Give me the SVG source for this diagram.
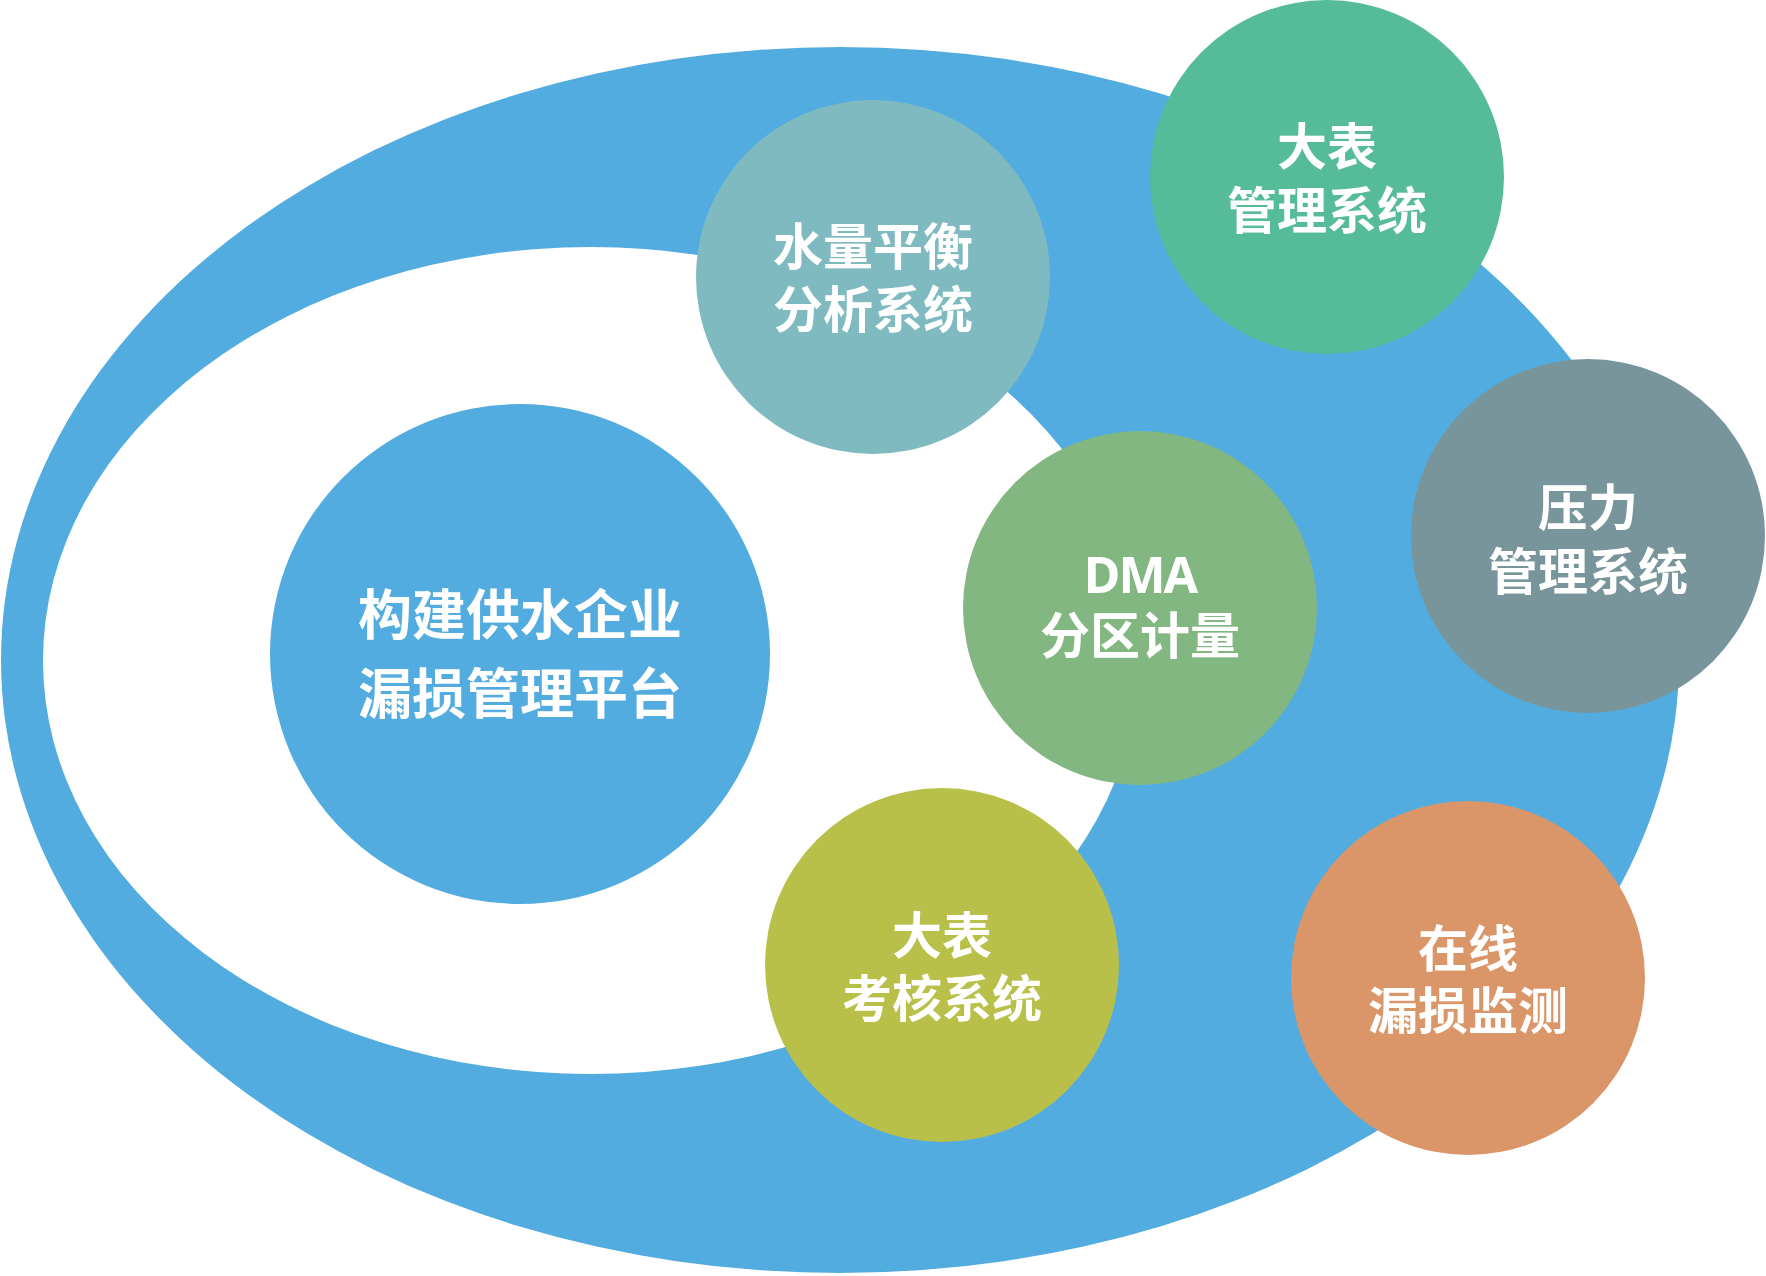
<svg xmlns="http://www.w3.org/2000/svg" width="1766" height="1276" viewBox="0 0 1766 1276">
<style>
text { font-family: "Noto Sans CJK SC", "Noto Sans", sans-serif; font-weight: 700; fill: #ffffff; text-anchor: middle; }
.big { font-size: 54px; }
.mid { font-size: 50px; }
.lat { font-family: "Noto Sans", "Noto Sans CJK SC", sans-serif; font-size: 50px; letter-spacing: -2px; }
</style>
<rect width="1766" height="1276" fill="#ffffff"/>
<g id="ring">
<ellipse cx="840" cy="660" rx="839" ry="613" fill="#52ACE0"/>
<ellipse cx="591" cy="660.5" rx="548" ry="413.5" fill="#ffffff"/>
</g>
<g id="connectors"></g>
<g id="platform">
<circle cx="520" cy="654" r="250" fill="#52ACE0"/>
<text class="big" x="520" y="635">构建供水企业</text>
<text class="big" x="520" y="714">漏损管理平台</text>
</g>
<g id="water-balance">
<circle cx="873" cy="277" r="177" fill="#7FBAC1"/>
<text class="mid" x="873" y="265">水量平衡</text>
<text class="mid" x="873" y="328">分析系统</text>
</g>
<g id="big-meter-mgmt">
<circle cx="1327" cy="177" r="177" fill="#56BB98"/>
<text class="mid" x="1327" y="165">大表</text>
<text class="mid" x="1327" y="229">管理系统</text>
</g>
<g id="pressure">
<circle cx="1588" cy="536" r="177" fill="#78959B"/>
<text class="mid" x="1588" y="526">压力</text>
<text class="mid" x="1588" y="590">管理系统</text>
</g>
<g id="dma">
<circle cx="1140" cy="608" r="177" fill="#83B781"/>
<text class="lat" x="1140" y="593">DMA</text>
<text class="mid" x="1140" y="654">分区计量</text>
</g>
<g id="big-meter-assess">
<circle cx="942" cy="965" r="177" fill="#B9C049"/>
<text class="mid" x="942" y="954">大表</text>
<text class="mid" x="942" y="1017">考核系统</text>
</g>
<g id="online-leak">
<circle cx="1468" cy="978" r="177" fill="#DA9569"/>
<text class="mid" x="1468" y="967">在线</text>
<text class="mid" x="1468" y="1029">漏损监测</text>
</g>
</svg>
